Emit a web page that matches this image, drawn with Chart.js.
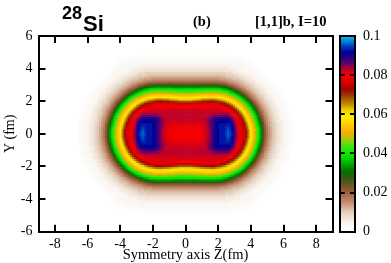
<!DOCTYPE html>
<html>
<head>
<meta charset="utf-8">
<script src="https://cdn.jsdelivr.net/npm/chart.js@4"></script>
<style>
  html, body { margin: 0; background: #fff; }
  canvas { position: absolute; left: 0; top: 0; }
</style>
</head>
<body>
<canvas id="density_chart" width="391" height="263"></canvas>
<canvas id="level_bar" width="391" height="263"></canvas>
<script>
//--------------------------------------------------------------------------------
//--- Input datasets
//--------------------------------------------------------------------------------

// grid of one quadrant, the picture is symmetric in Z and Y
var zGrid = [0,0.125,0.25,0.375,0.5,0.625,0.75,0.875,1,1.125,1.25,1.375,1.5,1.625,1.75,1.875,2,2.125,2.25,2.375,2.5,2.625,2.75,2.875,3,3.125,3.25,3.375,3.5,3.625,3.75,3.875,4,4.125,4.25,4.375,4.5,4.625,4.75,4.875,5,5.125,5.25,5.375,5.5,5.625,5.75,5.875,6,6.125,6.25,6.375,6.5];
var yGrid = [0,0.125,0.25,0.375,0.5,0.625,0.75,0.875,1,1.125,1.25,1.375,1.5,1.625,1.75,1.875,2,2.125,2.25,2.375,2.5,2.625,2.75,2.875,3,3.125,3.25,3.375,3.5,3.625,3.75,3.875,4,4.125,4.25,4.375,4.5,4.625,4.75];

// density, in thousandths, one row per yGrid entry, starting at Z=0
var densityRows = [
[79,79,79,79,79,79,79,79,79,80,81,82,84,86,88,90,91,92,92,92,94,96,94,92,88,84,80,78,77,75,71,65,59,54,50,44,39,33,27,21,17,14,12,10,9,7,6,5,4,3,3,2,2],
[79,79,79,79,79,79,79,79,79,80,81,82,84,86,88,90,91,92,92,92,94,95,94,92,88,84,80,78,77,75,71,65,59,54,50,44,39,33,27,21,17,14,12,10,9,7,6,5,4,3,3,2,2],
[79,79,79,79,79,79,79,79,79,80,81,82,84,86,88,90,91,92,92,92,93,95,93,91,88,84,80,78,76,75,71,65,59,54,50,44,39,33,27,21,17,14,12,10,9,7,6,5,4,3,3,2,2],
[79,79,79,79,79,79,79,79,80,80,81,82,84,86,88,90,91,92,92,92,93,94,93,91,88,83,80,78,76,74,69,63,58,53,49,43,38,32,26,20,16,14,12,10,9,7,6,5,4,3,3,2,2],
[80,80,80,80,80,80,80,80,80,81,82,83,85,86,88,90,91,92,92,92,93,93,92,90,87,83,80,77,75,73,68,62,57,52,47,42,37,31,25,20,16,13,11,10,8,7,6,5,4,3,3,2,2],
[80,80,80,80,80,80,80,81,81,81,82,83,85,86,88,90,91,92,92,92,92,92,92,90,86,82,79,77,75,72,66,61,56,52,46,41,35,30,24,19,15,13,11,10,8,7,6,5,4,3,3,2,2],
[81,81,81,81,81,81,81,81,81,81,82,83,85,87,88,90,91,91,91,91,91,91,90,88,85,81,78,77,74,70,64,59,54,50,45,40,34,28,23,18,15,13,11,9,8,6,5,5,4,3,3,2,2],
[81,81,81,81,81,81,81,81,81,81,82,83,85,87,88,89,90,90,90,90,90,90,89,87,83,80,78,76,72,67,62,57,53,49,43,38,32,27,21,17,14,12,10,9,7,6,5,4,3,3,2,2,1],
[82,82,82,82,82,82,82,82,82,82,82,83,84,85,87,88,88,88,88,88,88,88,87,84,82,79,77,74,70,65,60,55,51,46,41,36,30,25,20,16,14,12,10,9,7,6,5,4,3,3,2,2],
[82,82,82,82,82,82,82,82,82,82,82,82,83,83,84,85,85,85,86,86,86,85,84,82,80,77,75,72,67,62,57,53,49,44,39,34,28,23,19,15,13,11,10,8,7,6,5,4,3,3,2,2],
[82,82,82,82,82,82,82,82,82,82,82,82,82,83,83,83,83,83,83,83,83,83,82,80,78,76,72,68,64,59,55,51,46,41,37,31,26,20,17,14,12,10,9,8,6,5,4,3,3,3,2,2],
[81,81,81,81,81,81,81,81,81,81,81,81,81,81,81,81,81,81,81,81,81,80,79,78,76,73,69,65,60,56,52,49,44,39,34,29,23,19,16,13,12,10,9,7,6,5,4,3,3,2,2],
[81,81,81,81,81,81,81,81,81,81,81,81,81,81,81,81,81,81,81,80,80,79,78,76,73,69,65,61,57,53,50,45,41,36,31,26,20,17,15,13,11,10,8,7,6,5,4,3,3,2,2],
[80,80,80,80,80,80,80,80,80,80,80,80,80,80,80,80,80,80,80,79,78,77,74,72,68,65,61,57,54,51,46,42,38,33,28,23,19,16,13,12,10,9,7,6,5,4,3,3,3,2,2],
[79,79,79,79,79,79,79,79,79,79,80,80,80,80,80,80,79,78,77,76,74,72,70,67,64,60,57,54,51,47,43,39,34,29,25,20,17,14,12,11,10,8,7,6,5,4,3,3,2,2,1],
[74,74,74,74,75,75,75,76,76,76,77,77,77,77,77,76,75,74,73,72,70,67,65,62,59,56,53,51,47,43,39,35,31,26,21,18,15,13,11,10,9,7,6,5,4,3,3,3,2,2],
[68,68,68,68,69,69,70,70,71,71,71,72,72,72,72,71,70,69,68,66,64,62,60,57,55,52,50,46,43,39,35,31,26,22,19,16,13,12,10,9,8,7,6,5,4,3,3,2,2],
[61,61,61,61,62,62,63,63,64,65,65,65,66,66,66,65,64,63,62,61,59,57,55,53,51,49,45,42,39,35,31,27,22,19,16,14,12,11,10,8,7,6,5,4,3,3,3,2,2],
[56,56,56,56,57,57,58,58,59,59,59,60,60,60,60,59,58,58,57,56,54,53,51,49,46,44,41,38,34,31,26,22,19,16,14,13,11,10,9,7,6,5,5,4,3,3,2,2],
[52,52,52,52,52,53,53,54,54,54,55,55,55,55,55,54,54,53,52,52,50,49,46,44,41,39,36,33,29,26,22,19,16,14,13,11,10,9,8,7,6,5,4,3,3,3,2,2],
[47,47,47,47,48,48,48,49,49,49,50,50,50,50,50,50,49,49,47,46,45,43,41,39,37,34,31,28,25,21,19,16,14,13,11,10,9,8,7,6,5,4,3,3,3,2,2],
[42,42,42,42,42,43,43,43,43,43,44,44,44,44,44,44,44,43,42,41,40,38,36,34,31,29,26,23,20,18,16,14,13,11,10,9,8,7,6,5,4,4,3,3,2,2,2],
[38,38,38,38,38,38,38,39,39,39,39,39,39,39,39,39,38,38,37,35,34,32,30,28,26,23,20,19,17,15,13,12,11,10,9,8,7,6,5,5,4,3,3,3,2,2],
[32,32,32,32,32,32,32,33,33,33,33,33,33,33,33,33,32,32,31,30,28,27,25,23,20,19,17,16,14,13,12,11,10,9,8,7,6,5,5,4,3,3,3,2,2],
[26,26,26,26,26,26,26,27,27,27,27,27,27,27,27,27,26,26,25,24,23,21,20,19,17,16,15,13,12,11,10,10,9,8,7,6,5,5,4,3,3,3,2,2],
[21,21,21,21,21,21,21,21,21,21,21,21,21,21,21,21,20,20,20,19,18,17,16,15,14,13,13,12,11,10,9,8,7,7,6,5,5,4,3,3,3,2,2],
[17,17,17,17,17,17,17,17,17,17,17,17,17,17,17,17,17,16,16,15,15,14,13,13,12,12,11,10,10,9,8,7,6,6,5,4,4,3,3,3,2,2],
[14,14,14,14,14,14,14,14,14,14,14,14,14,14,14,14,14,13,13,13,13,12,12,11,10,10,10,9,8,7,7,6,5,5,4,4,3,3,3,2,2],
[12,12,12,12,12,12,12,12,12,12,12,12,12,12,12,12,12,12,11,11,11,10,10,10,9,9,8,7,7,6,6,5,5,4,3,3,3,3,2,2],
[10,10,10,10,10,10,10,10,10,10,10,10,10,10,10,10,10,10,10,10,9,9,9,9,8,7,7,6,6,5,5,4,4,3,3,3,3,2,2],
[9,9,9,9,9,9,9,9,9,9,9,9,9,9,9,9,9,9,9,9,8,8,8,7,6,6,6,5,5,4,4,3,3,3,3,2,2,2],
[7,7,7,7,7,7,7,7,7,7,7,7,7,7,7,7,7,7,7,7,6,6,6,6,5,5,5,4,4,3,3,3,3,3,2,2,2],
[6,6,6,6,6,6,6,6,6,6,6,6,6,6,6,6,6,6,6,6,6,5,5,5,5,4,4,4,4,3,3,3,3,3,2,2,2],
[5,5,5,5,5,5,5,5,5,5,5,5,5,5,5,5,5,5,5,5,5,5,4,4,4,4,4,4,3,3,3,3,3,3,2,2],
[4,4,4,4,4,4,4,4,4,4,4,4,4,4,4,4,4,4,4,4,4,4,4,3,3,3,3,3,3,3,3,2,2,2],
[3,3,3,3,3,3,3,3,3,3,3,3,3,3,3,3,3,3,3,3,3,3,3,3,3,3,3,3,3,3,2,2,2,2],
[3,3,3,3,3,3,3,3,3,3,3,3,3,3,3,3,3,3,3,3,3,3,3,2,2,2,2,2,2,2,2,2,2],
[2,2,2,2,2,2,2,2,2,2,2,2,2,2,2,2,2,2,2,2,2,2,2,2,2,2,2,2,2],
[2,2,2,2,2,2,2,2,2,2,2,2,2,2,2,2,2,2,2,2,2,2,2]
];

var zTicks = [-8,-6,-4,-2,0,2,4,6,8];
var yTicks = [-6,-4,-2,0,2,4,6];

var barLevels = [0,1,2,3,4,5,6,7,8,9,10,11,12,13,14,15,16,17,18,19,20,21,22,23,24,25,26,27,28,29,30,31,32,33,34,35,36,37,38,39,40,41,42,43,44,45,46,47,48,49,50,51,52,53,54,55,56,57,58,59,60,61,62,63,64,65,66,67,68,69,70,71,72,73,74,75,76,77,78,79,80,81,82,83,84,85,86,87,88,89,90,91,92,93,94,95,96,97,98,99];
var barTicks = [0,20,40,60,80,100];
var barTickLabels = ['0','0.02','0.04','0.06','0.08','0.1'];

var titleTexts = [
    {text: '28', x: 62, y: 19, font: 'bold 18px "Liberation Sans"'},
    {text: 'Si', x: 83, y: 31, font: 'bold 22px "Liberation Sans"'},
    {text: '(b)', x: 193, y: 26, font: 'bold 14.5px "Liberation Serif"'},
    {text: '[1,1]b, I=10', x: 255, y: 26, font: 'bold 14.5px "Liberation Serif"'}
];

//----------------------------------------
//--- Colour palette
//----------------------------------------

var stopLevels = [0,2,4,7,9.5,14,19,22,26,30,34,38,42,46,50,54,58,61,65,69,72,75,79,82,85,88,91,94,97,100];
var stopColors = [
    [255,255,255],[253,251,249],[249,244,238],[238,224,210],[226,204,184],[195,145,115],[160,95,65],[125,85,40],[60,90,20],
    [0,110,0],[0,170,0],[0,230,0],[40,235,10],[150,205,20],[255,170,0],[255,205,0],[255,240,0],[240,215,0],
    [190,130,0],[150,60,0],[160,5,0],[210,0,0],[245,0,0],[190,0,40],[110,0,100],[40,0,130],[0,0,150],
    [0,60,190],[0,140,220],[0,215,235]
];

function levelColor(v) {
    var k = 0;
    while (k < stopLevels.length - 2 && v > stopLevels[k + 1]) k++;
    var t = (v - stopLevels[k]) / (stopLevels[k + 1] - stopLevels[k]);
    var a = stopColors[k], b = stopColors[k + 1];
    return 'rgb(' + [0, 1, 2].map(function (n) { return Math.round(a[n] + (b[n] - a[n]) * t); }).join(',') + ')';
}

var serif = 'Liberation Serif';
Chart.defaults.color = '#000';
Chart.defaults.animation = false;
Chart.defaults.events = [];

// black 2px axis with ticks pointing into the frame
function frameAxis(position, min, max, ticks, size, extra) {
    return Object.assign({
        type: 'linear', position: position, min: min, max: max,
        border: {color: '#000', width: 2, z: 1},
        grid: {drawOnChartArea: false, color: '#000', lineWidth: 2, tickLength: -7, z: 1},
        ticks: {display: false},
        afterBuildTicks: function (scale) { scale.ticks = ticks.map(function (v) { return {value: v}; }); },
        afterFit: function (scale) {
            if (scale.isHorizontal()) scale.height = size; else scale.width = size;
        }
    }, extra || {});
}

//----------------------------------------
//--- Density map
//----------------------------------------

var cells = [];
densityRows.forEach(function (row, r) {
    row.forEach(function (v, c) {
        [1, -1].forEach(function (sz) {
            [1, -1].forEach(function (sy) {
                if ((sz < 0 && c === 0) || (sy < 0 && r === 0)) return;
                cells.push({x: sz * zGrid[c], y: sy * yGrid[r], v: v});
            });
        });
    });
});

var title_plugin = {
    id: 'title_texts',
    afterDraw: function (chart) {
        var ctx = chart.ctx;
        ctx.save();
        ctx.fillStyle = '#000';
        ctx.textBaseline = 'alphabetic';
        titleTexts.forEach(function (t) {
            ctx.font = t.font;
            ctx.fillText(t.text, t.x, t.y);
        });
        ctx.restore();
    }
};

var density_chart = new Chart(document.getElementById('density_chart').getContext('2d'), {
    type: 'scatter',
    data: {
        datasets: [{
            data: cells,
            pointStyle: 'rect', pointRadius: 1.9, pointBorderWidth: 0,
            pointBackgroundColor: cells.map(function (c) { return levelColor(c.v); })
        }]
    },
    options: {
        responsive: false, devicePixelRatio: 1,
        layout: {padding: 0},
        plugins: {legend: {display: false}, tooltip: {enabled: false}},
        scales: {
            x: frameAxis('bottom', -9, 9, zTicks, 31.3, {
                ticks: {display: true, autoSkip: false, maxRotation: 0, padding: 11, font: {family: serif, size: 14}, color: '#000',
                    callback: function (v) { return String(v); }},
                title: {display: true, text: 'Symmetry axis Z(fm)', color: '#000', font: {family: serif, size: 14.5}, padding: {top: 0, bottom: -1}}
            }),
            x2: frameAxis('top', -9, 9, zTicks, 36),
            y: frameAxis('left', -6, 6, yTicks, 38.5, {
                ticks: {display: true, autoSkip: false, padding: 13, font: {family: serif, size: 14}, color: '#000',
                    callback: function (v) { return String(v); }},
                title: {display: true, text: 'Y (fm)', color: '#000', font: {family: serif, size: 14}, padding: {top: 2, bottom: 0}}
            }),
            y2: frameAxis('right', -6, 6, yTicks, 58.5)
        }
    },
    plugins: [title_plugin]
});

//----------------------------------------
//--- Colour bar
//----------------------------------------

var level_bar = new Chart(document.getElementById('level_bar').getContext('2d'), {
    type: 'bar',
    data: {
        labels: [''],
        datasets: barLevels.map(function (l) {
            return {data: [[l, l + 1.5]], backgroundColor: levelColor(l + 0.5), borderWidth: 0, grouped: false,
                barPercentage: 1, categoryPercentage: 1, yAxisID: 'y'};
        })
    },
    options: {
        responsive: false, devicePixelRatio: 1,
        layout: {padding: 0},
        plugins: {legend: {display: false}, tooltip: {enabled: false}},
        scales: {
            x: {
                type: 'category', position: 'bottom',
                border: {color: '#000', width: 2, z: 1},
                grid: {display: false}, ticks: {display: false},
                afterFit: function (scale) { scale.height = 31.3; }
            },
            x2: frameAxis('top', 0, 1, [], 36, {grid: {display: false}}),
            y: frameAxis('right', 0, 100, barTicks, 36, {
                grid: {drawOnChartArea: false, color: '#000', lineWidth: 2, tickLength: -5, z: 1},
                ticks: {display: true, autoSkip: false, padding: 13, font: {family: serif, size: 14}, color: '#000',
                    callback: function (v) { return barTickLabels[barTicks.indexOf(v)]; }}
            }),
            y1: frameAxis('left', 0, 100, barTicks, 339.7, {
                grid: {drawOnChartArea: false, color: '#000', lineWidth: 2, tickLength: -5, z: 1}
            })
        }
    }
});
</script>
</body>
</html>
